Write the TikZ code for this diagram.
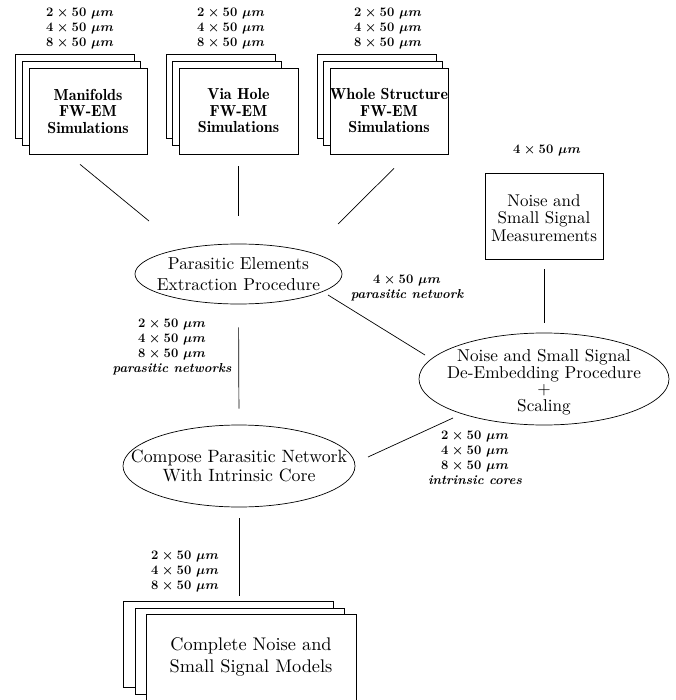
\RequirePackage{fix-cm}
\documentclass[tikz,border=0pt]{standalone}
\usepackage{fontspec}
\newfontfamily\lmten{lmroman10-regular}[Extension=.otf]
\newfontfamily\lmdemi{lmromandemi10-regular}[Extension=.otf]
\usetikzlibrary{shapes.geometric}
\newcommand\umw[1]{$#1\times 50\ \mu m$}
\begin{document}
\begin{tikzpicture}[x=1pt,y=-1pt,
  box/.style={draw, fill=white, inner sep=0pt, line width=0.7pt},
  ell/.style={draw, ellipse, inner sep=0pt, line width=0.7pt},
  tb/.style={font=\lmdemi\fontsize{16}{16.5}\selectfont, align=center, inner sep=0pt},
  tr/.style={align=center, inner sep=0pt},
  lab/.style={font=\fontsize{13}{15}\selectfont\bfseries\boldmath, align=center, inner sep=0pt},
  conn/.style={line width=0.7pt}]
\useasboundingbox (0,0) rectangle (675,700);
\clip (0,0) rectangle (675,700);

% top stacks
\node[box, minimum width=119, minimum height=84] (m1a) at (74.5,96) {};
\node[box, minimum width=118, minimum height=84] (m1b) at (81,103) {};
\node[box, minimum width=118, minimum height=86,
  label={[tb]center:{Manifolds\\FW-EM\\Simulations}}] (m1) at (88,111) {};

\node[box, minimum width=109, minimum height=84] (v1a) at (220.5,96) {};
\node[box, minimum width=109, minimum height=84] (v1b) at (226.5,103) {};
\node[box, minimum width=119, minimum height=86,
  label={[tb]center:{Via Hole\\FW-EM\\Simulations}}] (v1) at (238.5,111) {};

\node[box, minimum width=119, minimum height=84] (w1a) at (376.5,96) {};
\node[box, minimum width=119, minimum height=84] (w1b) at (382.5,103) {};
\node[box, minimum width=118, minimum height=86,
  label={[tb]center:{Whole Structure\\FW-EM\\Simulations}}] (w1) at (389,111) {};

\node[lab] (l1) at (80,29) {\umw2\\\umw4\\\umw8};
\node[lab] (l2) at (231,29) {\umw2\\\umw4\\\umw8};
\node[lab] (l3) at (388,29) {\umw2\\\umw4\\\umw8};

% measurements
\node[lab] (lm) at (547,151) {\umw4};
\node[box, minimum width=118, minimum height=86,
  label={[tr,font=\lmten\fontsize{17}{17.5}\selectfont,yshift=-2pt]center:{Noise and\\Small Signal\\Measurements}}] (me) at (544,216) {};

% ellipses
\node[ell, minimum width=207, minimum height=60,
  label={[tr,font=\lmten\fontsize{17.3}{21}\selectfont]center:{Parasitic Elements\\Extraction Procedure}}] (pe) at (238.5,274) {};
\node[ell, minimum width=232, minimum height=82,
  label={[tr,font=\lmten\fontsize{17.8}{19.5}\selectfont]center:{Compose Parasitic Network\\With Intrinsic Core}}] (co) at (239,466) {};
\node[ell, minimum width=250, minimum height=92,
  label={[tr,font=\lmten\fontsize{17.2}{16.5}\selectfont,yshift=-3pt]center:{Noise and Small Signal\\De-Embedding Procedure\\+\\Scaling}}] (de) at (544,379) {};

% labels in the middle
\node[lab] (lpn) at (407,288) {\umw4\\\itshape parasitic network};
\node[lab] (lpns) at (172,347) {\umw2\\\umw4\\\umw8\\\itshape parasitic networks};
\node[lab] (lic) at (475,458) {\umw2\\\umw4\\\umw8\\\itshape intrinsic cores};
\node[lab] (lb) at (185,572) {\umw2\\\umw4\\\umw8};

% bottom stack
\node[box, minimum width=210, minimum height=86] (cma) at (228,644) {};
\node[box, minimum width=209, minimum height=86] (cmb) at (239.5,651) {};
\node[box, minimum width=210, minimum height=86,
  label={[tr,font=\lmten\fontsize{18.3}{22}\selectfont]center:{Complete Noise and\\Small Signal Models}}] (cm) at (251,657) {};

% connectors
\draw[conn] ([shift={(-8,10)}]m1.south) -- ([shift={(-89.5,-53)}]pe.center);
\draw[conn, shorten <=12pt, shorten >=28pt] (v1.south) -- (pe.north);
\draw[conn] ([shift={(5,14)}]w1.south) -- ([shift={(99.5,-50)}]pe.center);
\draw[conn, shorten <=10pt, shorten >=10pt] (me.south) -- (de.north);
\draw[conn] ([shift={(89.5,21)}]pe.center) -- ([shift={(-119,-24)}]de.center);
\draw[conn, shorten <=23pt, shorten >=16pt] (pe.south) -- (co.north);
\draw[conn] ([shift={(129,-9)}]co.center) -- ([shift={(-91,39)}]de.center);
\draw[conn] ([shift={(0,11)}]co.south) -- ([shift={(-12,-18)}]cm.north);
\end{tikzpicture}
\end{document}
